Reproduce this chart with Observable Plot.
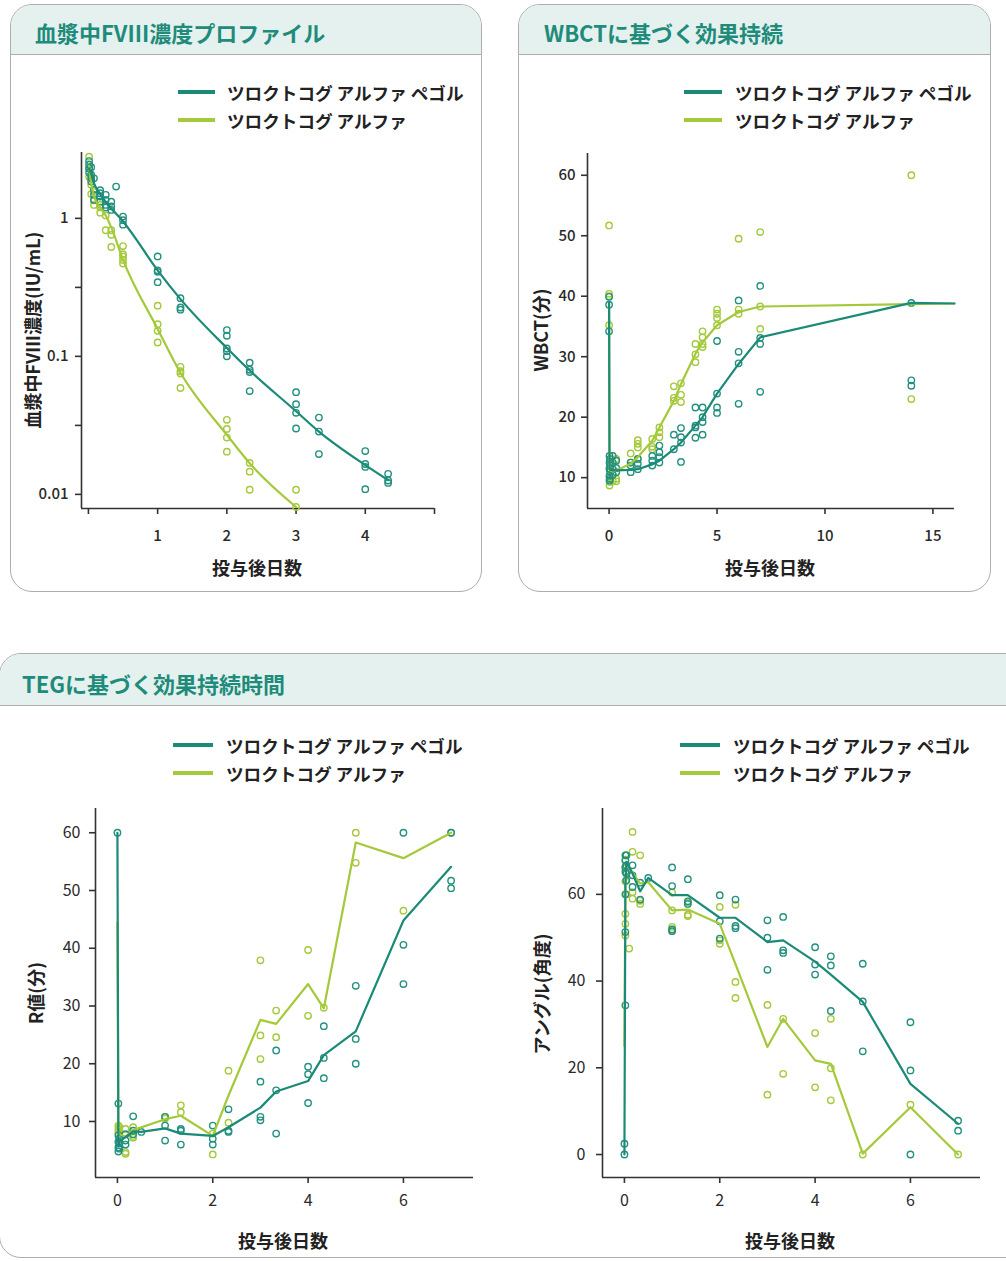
<!DOCTYPE html>
<html><head><meta charset="utf-8">
<script src="https://cdn.jsdelivr.net/npm/d3@7"></script>
<script src="https://cdn.jsdelivr.net/npm/@observablehq/plot@0.6"></script>
<style>
body{margin:0;width:1006px;height:1261px;position:relative;overflow:hidden;background:#fff;font-family:'Noto Sans CJK JP','Noto Sans',sans-serif;}
.panel{position:absolute;box-sizing:border-box;border:1.6px solid #adadad;border-radius:22px;overflow:hidden;background:#fff;}
.head{position:absolute;left:0;top:0;right:0;background:#e4f1ee;border-bottom:1.5px solid #adadad;}
.title{position:absolute;font-size:22px;font-weight:700;color:#1e8b7b;line-height:28px;white-space:nowrap;}
.leg{position:absolute;display:flex;align-items:center;font-size:17.6px;font-weight:700;color:#222;white-space:nowrap;height:24px;}
.leg .sw{display:inline-block;height:3.5px;}
.lab{position:absolute;font-size:18px;font-weight:700;color:#222;white-space:nowrap;line-height:24px;}
.chart{position:absolute;}
</style></head><body>
<div class="panel" style="left:10px;top:4px;width:472px;height:588px;"><div class="head" style="height:49px;"></div></div>
<div class="panel" style="left:518px;top:4px;width:473px;height:588px;"><div class="head" style="height:49px;"></div></div>
<div class="panel" style="left:-1px;top:653px;width:1040px;height:605px;"><div class="head" style="height:51px;"></div></div>
<script>
// ---------- data ----------
const seriesNames = ["ツロクトコグ アルファ ペゴル", "ツロクトコグ アルファ"];
const titles = ["血漿中FVIII濃度プロファイル", "WBCTに基づく効果持続", "TEGに基づく効果持続時間"];
const xLabel = "投与後日数";
const yLabels = ["血漿中FVIII濃度(IU/mL)", "WBCT(分)", "R値(分)", "アングル(角度)"];

// Panel 1: FVIII (log)
const fviiiPegPoints = [
  [0.01,[2.6,2.45,2.3,2.15]],[0.04,[2.35,2.07,1.95,1.85]],[0.08,[1.95,1.61,1.48,1.36]],
  [0.17,[1.6,1.52,1.44,1.32]],[0.25,[1.48,1.36,1.25,1.2]],[0.33,[1.32,1.22,1.15]],
  [0.4,[1.7]],[0.5,[1.03,0.97,0.9]],[1,[0.53,0.42,0.41,0.345]],[1.33,[0.264,0.226,0.218]],
  [2,[0.155,0.141,0.114,0.109,0.1]],[2.33,[0.09,0.08,0.077,0.056]],[3,[0.055,0.045,0.039,0.03]],
  [3.33,[0.036,0.0285,0.0196]],[4,[0.0206,0.0166,0.0158,0.0109]],[4.33,[0.0141,0.0126,0.0121]]
];
const fviiiPegLine = [[0.01,2.3],[0.04,2.1],[0.08,1.8],[0.17,1.5],[0.25,1.32],[0.33,1.18],[0.5,0.95],[1,0.42],[1.33,0.26],[2,0.115],[2.33,0.079],[3,0.04],[3.33,0.0285],[4,0.0163],[4.33,0.0127]];
const fviiiAlfPoints = [
  [0.01,[2.8,2.3,2.0]],[0.04,[2.0,1.75,1.5]],[0.08,[1.55,1.35,1.25]],[0.17,[1.25,1.2,1.1]],
  [0.25,[1.05,0.82]],[0.33,[0.82,0.76,0.62]],[0.5,[0.63,0.55,0.53,0.5,0.47]],
  [1,[0.233,0.171,0.153,0.126]],[1.33,[0.084,0.078,0.075,0.059]],[2,[0.0347,0.0298,0.0258,0.0204]],
  [2.33,[0.0169,0.0146,0.0108]],[3,[0.0108,0.0081]]
];
const fviiiAlfLine = [[0.01,2.4],[0.04,1.8],[0.08,1.45],[0.17,1.2],[0.25,1.05],[0.33,0.86],[0.5,0.5],[1,0.158],[1.33,0.076],[2,0.027],[2.33,0.0168],[3,0.0081]];

// Panel 2: WBCT
const wbctPegPoints = [
  [0,[39.9,38.6,34.2]],[0.02,[13.6,12.5,11.5,10.3,9.5]],[0.04,[13.1,12.0,11.0,9.8]],
  [0.17,[13.6,12.5,11.4,10.5]],[0.33,[12.8,11.6,10.9]],[1,[12.5,12.0,10.9]],[1.33,[13.1,12.3,11.4]],
  [2,[13.6,12.8,12.0]],[2.33,[15.3,14.2,13.4,12.5]],[3,[17.1,14.7]],[3.33,[18.2,16.7,15.8,12.6]],
  [4,[21.6,18.6,18.3,16.6]],[4.33,[21.6,20.0,19.2,17.1]],[5,[32.6,23.9,21.6,20.7]],
  [6,[39.3,30.8,28.9,22.2]],[7,[41.7,33.1,32.1,24.2]],[14,[38.9,26.1,25.2]]
];
const wbctPegLine = [[0,38.9],[0.02,11.6],[0.04,11.3],[0.17,11.2],[0.33,11.2],[1,11.3],[1.33,11.4],[2,12.2],[2.33,12.8],[3,14.7],[3.33,15.8],[4,18.6],[4.33,20.0],[5,23.9],[6,28.8],[7,33.2],[14,38.9],[16,38.8]];
const wbctAlfPoints = [
  [0,[51.7,40.4,40.0,35.2]],[0.02,[8.7,10.0,11.5]],[0.04,[9.3,12.0]],[0.17,[9.5,10.5]],
  [0.33,[13.1,9.8,9.4]],[1,[14.0,12.5]],[1.33,[16.2,15.6,15.0,13.1]],[2,[16.4,15.1,14.7]],
  [2.33,[18.3,17.5,16.7]],[3,[25.1,23.2,22.7]],[3.33,[25.6,23.7,22.5]],[4,[32.1,30.4,29.1]],
  [4.33,[34.2,33.2,32.1,31.6]],[5,[37.8,37.1,36.4,35.2]],[6,[49.5,37.8,37.1]],
  [7,[50.6,38.3,34.6]],[14,[60,23.0]]
];
const wbctAlfLine = [[0,38.0],[0.02,11.4],[0.04,11.2],[0.17,11.0],[0.33,11.2],[1,12.3],[1.33,13.4],[2,16.1],[2.33,18.3],[3,22.7],[3.33,25.5],[4,30.5],[4.33,32.4],[5,35.2],[6,37.4],[7,38.3],[14,38.7],[16,38.8]];

// Panel 3: TEG R value
const rPegPoints = [
  [0,[60]],[0.02,[13.1,7.6,6.5,5.5,4.8]],[0.04,[7.0,6.2,5.3]],[0.17,[7.8,6.7,6.0]],
  [0.33,[10.9,8.4,7.8]],[0.5,[8.2]],[1,[10.8,9.3,6.7]],[1.33,[8.7,8.4,6.0]],[2,[9.3,7.0,6.0]],
  [2.33,[12.1,8.4,8.2]],[3,[16.9,10.8,10.2]],[3.33,[22.3,15.4,7.9]],[4,[19.5,18.2,13.2]],
  [4.33,[26.5,21.0,17.5]],[5,[33.5,24.3,20.0]],[6,[60,40.6,33.8]],[7,[60,51.7,50.4]]
];
const rPegLine = [[0,60],[0.02,5.8],[0.04,6.5],[0.17,7.3],[0.33,8.3],[0.5,8.2],[1,8.8],[1.33,7.9],[2,7.5],[2.33,9.0],[3,12.4],[3.33,15.2],[4,17.0],[4.33,21.5],[5,25.6],[6,44.8],[7,54.1]];
const rAlfPoints = [
  [0.02,[9.3,8.7,8.1]],[0.04,[9.0,6.4]],[0.17,[8.7,4.7,4.4]],[0.33,[9.0,7.5,7.2]],
  [1,[10.8,10.5]],[1.33,[12.8,11.6]],[2,[7.9,4.3]],[2.33,[18.8,9.8]],[3,[37.9,24.9,20.8]],
  [3.33,[29.2,24.6]],[4,[39.7,28.3]],[4.33,[29.7]],[5,[60,54.8]],[6,[46.5]],[7,[60]]
];
const rAlfLine = [[0,44.5],[0.02,8.4],[0.04,7.8],[0.17,7.4],[0.33,8.5],[1,10.4],[1.33,11.0],[2,7.5],[2.33,14.5],[3,27.6],[3.33,26.9],[4,33.8],[4.33,29.6],[5,58.3],[6,55.6],[7,60]];

// Panel 4: TEG angle
const angPegPoints = [
  [0,[0,2.5]],[0.02,[69,67.8,66.3,65.2,60,51.3,34.4]],[0.04,[69,66.7,64.8,63.2]],
  [0.17,[66.7,64.4,61.7]],[0.33,[62.7,58.8]],[0.5,[63.8]],[1,[66.2,61.9,51.9,51.5]],
  [1.33,[63.5,58.4,57.8]],[2,[59.8,53.8,49.8]],[2.33,[58.8,52.7,52.2]],[3,[54.0,50.0,42.6]],
  [3.33,[54.8,47.1,46.5]],[4,[47.8,43.8,41.5]],[4.33,[45.7,43.6,33.1]],[5,[44.0,35.3,23.8]],
  [6,[30.5,19.4,0]],[7,[7.8,5.5]]
];
const angPegLine = [[0,0],[0.02,62],[0.04,67.5],[0.17,64.8],[0.33,60.7],[0.5,63.8],[1,59.8],[1.33,59.8],[2,54.6],[2.33,54.6],[3,49.0],[3.33,49.4],[4,44.5],[4.33,41.5],[5,35.2],[6,16.3],[7,7.1]];
const angAlfPoints = [
  [0.02,[68,66,63,55.5,53.2,50.5]],[0.04,[69,65,60]],[0.1,[47.5]],[0.17,[74.4,69.8,60.5,59]],
  [0.33,[69,57.8,58.5]],[1,[60.4,56.3,52.5,51.9]],[1.33,[58.2,55.3,55.0]],[2,[57.1,49.4,48.6]],
  [2.33,[57.6,39.8,36.1]],[3,[34.5,13.8]],[3.33,[31.3,18.6]],[4,[28.0,15.5]],
  [4.33,[31.3,19.9,12.5]],[5,[0]],[6,[11.5]],[7,[0]]
];
const angAlfLine = [[0,25],[0.02,62],[0.04,67],[0.17,65],[0.33,62.5],[0.5,62.8],[1,56.3],[1.33,56.5],[2,53.2],[2.33,43.9],[3,24.8],[3.33,31.3],[4,21.7],[4.33,20.9],[5,0.2],[6,10.9],[7,0]];

// tick values
const fviiiXTicks = [0,1,2,3,4,5];
const fviiiYTicks = [0.01,0.0316,0.1,0.316,1];
const wbctXTicks = [0,5,10,15];
const wbctYTicks = [10,20,30,40,50,60];
const tegXTicks = [0,2,4,6];
const rYTicks = [10,20,30,40,50,60];
const angYTicks = [0,20,40,60];

// ---------- drawing ----------
const PEG = "#1b8a76", PEG_DOT = "#23917f", ALF = "#a4c93a", AXIS = "#333";
const FONT = "'Noto Sans CJK JP','Noto Sans',sans-serif";
const flat = g => g.flatMap(([t, vs]) => vs.map(v => ({t, v})));
const pts = p => p.map(([t, v]) => ({t, v}));

function chart(o) {
  const svg = Plot.plot({
    width: o.width, height: o.height,
    marginTop: o.m[0], marginRight: o.m[1], marginBottom: o.m[2], marginLeft: o.m[3],
    x: {type: "linear", domain: o.xd},
    y: {type: o.ylog ? "log" : "linear", domain: o.yd},
    style: {fontFamily: FONT, fontSize: o.fs + "px", fontWeight: o.fw, color: "#2a2a2a", background: "transparent", overflow: "visible"},
    marks: [
      Plot.ruleX([o.xd[0]], {stroke: AXIS, strokeWidth: 1.6}),
      Plot.ruleY([o.yd[0]], {stroke: AXIS, strokeWidth: 1.6}),
      Plot.axisX({ticks: o.xt, tickFormat: o.xf || (d => d), tickSize: 6, tickPadding: o.xp, stroke: AXIS, strokeWidth: 1.6, label: null}),
      Plot.axisY({ticks: o.yt, tickFormat: o.yf || (d => d), tickSize: 6, tickPadding: o.yp, stroke: AXIS, strokeWidth: 1.6, label: null}),
      Plot.dot(flat(o.alfP), {x: "t", y: "v", r: 3.2, stroke: ALF, strokeWidth: 1.4}),
      Plot.dot(flat(o.pegP), {x: "t", y: "v", r: 3.2, stroke: PEG_DOT, strokeWidth: 1.4}),
      Plot.line(pts(o.alfL), {x: "t", y: "v", stroke: ALF, strokeWidth: 2.2, curve: o.curve}),
      Plot.line(pts(o.pegL), {x: "t", y: "v", stroke: PEG, strokeWidth: 2.2, curve: o.curve})
    ]
  });
  const d = document.createElement("div");
  d.className = "chart";
  d.style.left = o.left + "px"; d.style.top = o.top + "px"; d.style.width = o.width + "px";
  d.appendChild(svg);
  document.body.appendChild(d);
}

function text(cls, str, x, y, extra) {
  const d = document.createElement("div");
  d.className = cls; d.textContent = str;
  d.style.left = x + "px"; d.style.top = y + "px";
  if (extra) Object.assign(d.style, extra);
  document.body.appendChild(d);
  return d;
}
function centered(str, cx, cy, rotate) {
  const d = text("lab", str, cx, cy);
  d.style.transform = "translate(-50%,-50%)" + (rotate ? " rotate(-90deg)" : "");
}
function legend(x0, x1, tx, y0) {
  [[PEG, seriesNames[0], y0], [ALF, seriesNames[1], y0 + 28]].forEach(([c, s, cy]) => {
    const d = document.createElement("div");
    d.className = "leg";
    d.style.left = x0 + "px"; d.style.top = (cy - 12) + "px";
    const sw = document.createElement("span");
    sw.className = "sw"; sw.style.background = c; sw.style.width = (x1 - x0) + "px"; sw.style.marginRight = (tx - x1) + "px";
    d.appendChild(sw);
    d.appendChild(document.createTextNode(s));
    document.body.appendChild(d);
  });
}

// titles
text("title", titles[0], 35, 18);
text("title", titles[1], 544, 18);
text("title", titles[2], 22, 669);

// charts
chart({left: 0, top: 140, width: 490, height: 420, m: [12, 56, 52, 81], xd: [-0.1, 5], yd: [0.0079, 3.0], ylog: true,
  xt: fviiiXTicks, yt: fviiiYTicks, xf: d => (d >= 1 && d <= 4) ? d : "",
  yf: d => Math.abs(Math.log10(d) - Math.round(Math.log10(d))) < 0.01 ? String(+d.toPrecision(1)) : "",
  xp: 16, yp: 7, fs: 15, fw: 500, curve: "monotone-x",
  pegP: fviiiPegPoints, alfP: fviiiAlfPoints, pegL: fviiiPegLine, alfL: fviiiAlfLine});
chart({left: 510, top: 140, width: 490, height: 420, m: [13, 46, 52, 77], xd: [-1, 16], yd: [4.9, 63.6],
  xt: wbctXTicks, yt: wbctYTicks, xp: 16, yp: 6, fs: 15, fw: 500, curve: "linear",
  pegP: wbctPegPoints, alfP: wbctAlfPoints, pegL: wbctPegLine, alfL: wbctAlfLine});
chart({left: 0, top: 795, width: 500, height: 430, m: [13, 27, 48, 95], xd: [-0.46, 7.47], yd: [0.3, 64.2],
  xt: tegXTicks, yt: rYTicks, xp: 11, yp: 9, fs: 16, fw: 400, curve: "linear",
  pegP: rPegPoints, alfP: rAlfPoints, pegL: rPegLine, alfL: rAlfLine});
chart({left: 503, top: 795, width: 500, height: 430, m: [13, 23, 48, 99], xd: [-0.46, 7.47], yd: [-5.3, 79.8],
  xt: tegXTicks, yt: angYTicks, xp: 11, yp: 11, fs: 16, fw: 400, curve: "linear",
  pegP: angPegPoints, alfP: angAlfPoints, pegL: angPegLine, alfL: angAlfLine});

// legends
legend(178, 215, 227, 92);
legend(684, 722, 735, 92);
legend(173, 213, 226, 745);
legend(680, 720, 733, 745);

// axis labels
centered(yLabels[0], 32, 330, true);
centered(yLabels[1], 540, 330, true);
centered(yLabels[2], 35, 993, true);
centered(yLabels[3], 541, 994, true);
centered(xLabel, 257, 567);
centered(xLabel, 770, 567);
centered(xLabel, 283, 1240);
centered(xLabel, 790, 1240);
</script>
</body></html>
